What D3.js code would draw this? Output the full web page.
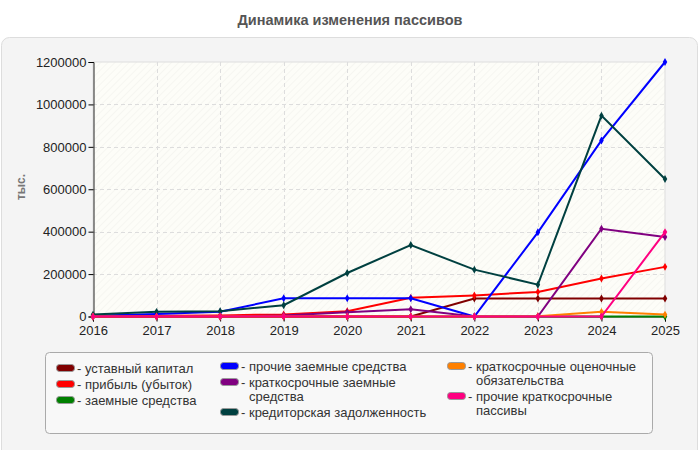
<!DOCTYPE html>
<html>
<head>
<meta charset="utf-8">
<script src="https://cdn.jsdelivr.net/npm/d3@7"></script>
<style>
  body { margin: 0; background: #fff; font-family: "Liberation Sans", Arial, sans-serif; }
  .grid line { stroke: #ddd; stroke-dasharray: 4,3; }
  .axis text { font-size: 13px; fill: #222; }
</style>
</head>
<body>
<div id="chart"></div>
<script>
var width = 700, height = 450;

var years = [2016, 2017, 2018, 2019, 2020, 2021, 2022, 2023, 2024, 2025];
var yTicks = [0, 200000, 400000, 600000, 800000, 1000000, 1200000];

// values in тыс.
var ustavny     = [0, 0, 0, 0, 0, 0, 85000, 85000, 85000, 85000];
var pribyl      = [3000, 4000, 5000, 10000, 25000, 88000, 99000, 116000, 179000, 234000];
var zaemnye     = [0, 0, 0, 0, 0, 0, 0, 0, 0, 0];
var prochieZaem = [3000, 12000, 22000, 86000, 86000, 86000, 0, 397000, 830000, 1200000];
var kratkoZaem  = [0, 0, 0, 5000, 20000, 34000, 0, 0, 414000, 375000];
var kreditor    = [9000, 22000, 25000, 53000, 205000, 337000, 221000, 150000, 947000, 648000];
var ocenochnye  = [0, 0, 0, 0, 0, 0, 0, 1000, 22000, 9000];
var prochieKr   = [0, 0, 0, 0, 0, 0, 0, 0, 0, 398000];

var series = [
  { name: ["- уставный капитал"], color: "#800000", values: ustavny, col: 0 },
  { name: ["- прибыль (убыток)"], color: "#ff0000", values: pribyl, col: 0 },
  { name: ["- заемные средства"], color: "#008000", values: zaemnye, col: 0 },
  { name: ["- прочие заемные средства"], color: "#0000ff", values: prochieZaem, col: 1 },
  { name: ["- краткосрочные заемные", "средства"], color: "#800080", values: kratkoZaem, col: 1 },
  { name: ["- кредиторская задолженность"], color: "#004040", values: kreditor, col: 1 },
  { name: ["- краткосрочные оценочные", "обязательства"], color: "#ff8000", values: ocenochnye, col: 2 },
  { name: ["- прочие краткосрочные", "пассивы"], color: "#ff0080", values: prochieKr, col: 2 }
];

var margin = { left: 93, right: 35, top: 62, bottom: 133 };

var svg = d3.select("#chart").append("svg")
  .attr("width", width)
  .attr("height", height);

var defs = svg.append("defs");
var pat = defs.append("pattern")
  .attr("id", "hatch")
  .attr("patternUnits", "userSpaceOnUse")
  .attr("width", 5).attr("height", 5)
  .attr("patternTransform", "rotate(45)");
pat.append("rect").attr("width", 5).attr("height", 5).attr("fill", "#fdfdf8");
pat.append("line").attr("x1", 0).attr("y1", 0).attr("x2", 0).attr("y2", 5)
  .attr("stroke", "#efefea").attr("stroke-width", 1);

// title
svg.append("text")
  .attr("x", width / 2).attr("y", 25)
  .attr("text-anchor", "middle")
  .attr("font-size", "14.5px").attr("font-weight", "bold")
  .attr("fill", "#555")
  .text("Динамика изменения пассивов");

// panel
svg.append("rect")
  .attr("x", 1.5).attr("y", 37.5).attr("width", 696).attr("height", 430)
  .attr("rx", 8).attr("ry", 8)
  .attr("fill", "#f4f4f4").attr("stroke", "#ddd");

var x = d3.scaleLinear().domain([2016, 2025]).range([margin.left, width - margin.right]);
var y = d3.scaleLinear().domain([0, 1200000]).range([height - margin.bottom - 0.5, margin.top]);

// plot area
svg.append("rect")
  .attr("x", x.range()[0]).attr("y", y(1200000))
  .attr("width", x.range()[1] - x.range()[0])
  .attr("height", y(0) - y(1200000))
  .attr("fill", "url(#hatch)")
  .attr("stroke", "#ddd");

// grid
var grid = svg.append("g").attr("class", "grid");
grid.selectAll(".vg").data(years.slice(1, -1)).enter().append("line")
  .attr("x1", function(d) { return Math.round(x(d)) + 0.5; })
  .attr("x2", function(d) { return Math.round(x(d)) + 0.5; })
  .attr("y1", y(1200000)).attr("y2", y(0));
grid.selectAll(".hg").data(yTicks.slice(1, -1)).enter().append("line")
  .attr("x1", x.range()[0]).attr("x2", x.range()[1])
  .attr("y1", function(d) { return Math.round(y(d)) + 0.5; })
  .attr("y2", function(d) { return Math.round(y(d)) + 0.5; });

// axes
svg.append("g").attr("class", "axis")
  .attr("transform", "translate(" + (margin.left + 0.5) + ",0)")
  .call(d3.axisLeft(y).tickValues(yTicks).tickFormat(d3.format("d")).tickSizeOuter(0).tickSize(5).tickPadding(2))
  .call(function(g) { g.select(".domain").attr("stroke", "#222"); });

svg.append("g").attr("class", "axis")
  .attr("transform", "translate(0," + (y(0)) + ")")
  .call(d3.axisBottom(x).tickValues(years).tickFormat(d3.format("d")).tickSizeOuter(0).tickSize(5).tickPadding(4))
  .call(function(g) { g.select(".domain").attr("stroke", "#222"); });

svg.selectAll(".axis text").attr("font-family", "Liberation Sans, Arial, sans-serif");

// y title
svg.append("text")
  .attr("transform", "translate(25,187) rotate(-90)")
  .attr("text-anchor", "middle")
  .attr("font-size", "12px").attr("font-weight", "bold")
  .attr("fill", "#777")
  .text("тыс.");

// lines
var line = d3.line()
  .x(function(d, i) { return x(years[i]); })
  .y(function(d) { return y(d); });

var sym = d3.symbol().type(d3.symbolDiamond).size(18);

var drawOrder = [2, 0, 1, 3, 4, 5, 6, 7];
drawOrder.forEach(function(k) {
  var s = series[k];
  var g = svg.append("g");
  g.append("path")
    .attr("d", line(s.values))
    .attr("fill", "none")
    .attr("stroke", s.color)
    .attr("stroke-width", 2);
  g.selectAll("path.m").data(s.values).enter().append("path")
    .attr("class", "m")
    .attr("transform", function(d, i) { return "translate(" + x(years[i]) + "," + y(d) + ")"; })
    .attr("d", sym)
    .attr("fill", s.color);
});

// legend
svg.append("rect")
  .attr("x", 45.5).attr("y", 352.5).attr("width", 607).attr("height", 81)
  .attr("rx", 4).attr("ry", 4)
  .attr("fill", "#f8f8f8").attr("stroke", "#aaa");

var colX = [56, 220, 447];
var colY = [368, 366, 366];
var lineH = 14;
var cursor = colY.slice();

series.forEach(function(s) {
  var c = s.col;
  var yy = cursor[c];
  var lg = svg.append("g");
  lg.append("rect")
    .attr("x", colX[c] + 0.5).attr("y", yy - 3.5)
    .attr("width", 18).attr("height", 7)
    .attr("rx", 3).attr("ry", 3)
    .attr("fill", s.color).attr("stroke", "#999").attr("stroke-width", 1);
  s.name.forEach(function(t, j) {
    lg.append("text")
      .attr("x", colX[c] + (j === 0 ? 21 : 29))
      .attr("y", yy + j * lineH + 4.5)
      .attr("font-size", "13px")
      .attr("fill", "#333")
      .text(t);
  });
  cursor[c] = yy + s.name.length * lineH + 2;
});
</script>
</body>
</html>
